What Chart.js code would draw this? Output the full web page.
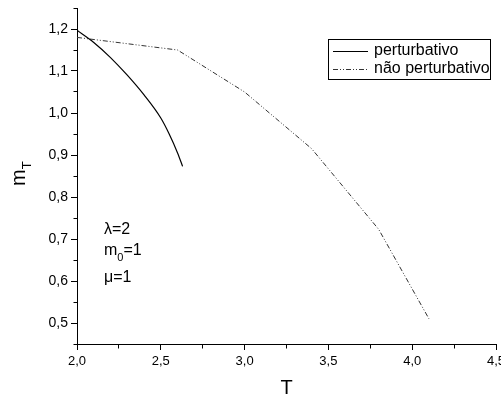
<!DOCTYPE html>
<html><head><meta charset="utf-8">
<script src="https://cdn.jsdelivr.net/npm/chart.js@4/dist/chart.umd.min.js"></script>
<style>html,body{margin:0;padding:0;background:#fff;}canvas{display:block;}</style>
</head><body>
<canvas id="c" width="501" height="396"></canvas>
<script>
// ---- data ----
const T_pert = [2.0, 2.1, 2.2, 2.3, 2.4, 2.5, 2.55, 2.6, 2.63];
const m_pert = [1.197, 1.168, 1.132, 1.090, 1.043, 0.988, 0.950, 0.905, 0.873];
const T_np = [2.0, 2.6, 3.0, 3.4, 3.8, 4.1];
const m_np = [1.18, 1.15, 1.05, 0.915, 0.723, 0.51];
const seriesLabels = ['perturbativo', 'não perturbativo'];
const xTickLabels = ['2,0', '2,5', '3,0', '3,5', '4,0', '4,5'];
const yTickLabels = ['0,5', '0,6', '0,7', '0,8', '0,9', '1,0', '1,1', '1,2'];
const params = [['λ=2'], ['m', '0', '=1'], ['μ=1']];

const FONT = '"Liberation Sans", Arial, sans-serif';
const isMajor = (v, step) => Math.abs(v / step - Math.round(v / step)) < 1e-6;

const toPts = (xs, ys) => xs.map((x, i) => ({x, y: ys[i]}));

const extras = {
  id: 'extras',
  afterDraw(chart) {
    const ctx = chart.ctx;
    ctx.save();
    ctx.fillStyle = '#000';
    // legend box
    const lx = 328.5, ly = 39.5, lw = 162, lh = 40;
    ctx.strokeStyle = '#000'; ctx.lineWidth = 1; ctx.setLineDash([]);
    ctx.strokeRect(lx, ly, lw, lh);
    chart.data.datasets.forEach((ds, i) => {
      const y = 51 + i * 18;
      ctx.save();
      ctx.strokeStyle = ds.borderColor; ctx.lineWidth = ds.borderWidth;
      ctx.setLineDash(ds.borderDash || []);
      ctx.beginPath(); ctx.moveTo(333, y + 0.5); ctx.lineTo(368, y + 0.5); ctx.stroke();
      ctx.restore();
      ctx.font = '16px ' + FONT; ctx.textBaseline = 'middle'; ctx.textAlign = 'left';
      ctx.fillText(ds.label, 374, y);
    });
    // parameter annotations
    ctx.textBaseline = 'alphabetic';
    ctx.font = '16px ' + FONT;
    ctx.fillText(params[0][0], 104, 234);
    let x = 104;
    ctx.fillText(params[1][0], x, 255); x += ctx.measureText(params[1][0]).width;
    ctx.font = '11px ' + FONT;
    ctx.fillText(params[1][1], x, 261); x += ctx.measureText(params[1][1]).width;
    ctx.font = '16px ' + FONT;
    ctx.fillText(params[1][2], x, 255);
    ctx.fillText(params[2][0], 104, 282);
    // y axis title m_T
    ctx.save();
    ctx.translate(25, 186);
    ctx.rotate(-Math.PI / 2);
    ctx.font = '20px ' + FONT;
    ctx.fillText('m', 0, 0);
    const mw = ctx.measureText('m').width;
    ctx.font = '13px ' + FONT;
    ctx.fillText('T', mw, 6);
    ctx.restore();
    ctx.restore();
  }
};

new Chart(document.getElementById('c'), {
  type: 'scatter',
  data: {
    datasets: [
      {label: seriesLabels[0], data: toPts(T_pert, m_pert), showLine: true, borderColor: '#000', borderWidth: 1.2,
       pointRadius: 0, cubicInterpolationMode: 'monotone', fill: false},
      {label: seriesLabels[1], data: toPts(T_np, m_np), showLine: true, borderColor: '#333', borderWidth: 1,
       borderDash: [5, 2, 1, 2, 1, 2], pointRadius: 0, tension: 0, fill: false}
    ]
  },
  options: {
    responsive: false, animation: false, devicePixelRatio: 1,
    layout: {padding: {top: 8, right: 5, left: 0, bottom: 0}},
    plugins: {legend: {display: false}, tooltip: {enabled: false}},
    scales: {
      x: {
        type: 'linear', position: 'bottom', min: 2, max: 4.5,
        ticks: {stepSize: 0.25, autoSkip: false, maxRotation: 0, padding: 4, color: '#000',
          font: {family: FONT, size: 13},
          callback: v => isMajor(v, 0.5) ? xTickLabels[Math.round((v - 2) / 0.5)] : ''},
        grid: {drawOnChartArea: false, drawTicks: true, tickLength: 6, tickColor: '#000', tickWidth: 1,
          tickBorderDash: c => (c.tick && !isMajor(c.tick.value, 0.5)) ? [3.5, 100] : []},
        border: {color: '#000', width: 1},
        title: {display: true, text: 'T', color: '#000', font: {family: FONT, size: 20, lineHeight: 1},
          padding: {top: 0, bottom: -2}},
        afterFit(s) { s.height = 52; s.paddingLeft = 0; s.paddingRight = 0; }
      },
      y: {
        type: 'linear', position: 'left', min: 0.45, max: 1.25,
        ticks: {stepSize: 0.05, autoSkip: false, padding: 3, color: '#000', maxTicksLimit: 100,
          font: {family: FONT, size: 14},
          callback: v => isMajor(v, 0.1) ? yTickLabels[Math.round((v - 0.5) / 0.1)] : ''},
        grid: {drawOnChartArea: false, drawTicks: true, tickLength: 6, tickColor: '#000', tickWidth: 1,
          tickBorderDash: c => (c.tick && !isMajor(c.tick.value, 0.1)) ? [0, 2.5, 3.5, 100] : []},
        border: {color: '#000', width: 1},
        afterFit(s) { s.width = 77; s.paddingTop = 0; s.paddingBottom = 0; }
      }
    }
  },
  plugins: [extras]
});
</script>
</body></html>
